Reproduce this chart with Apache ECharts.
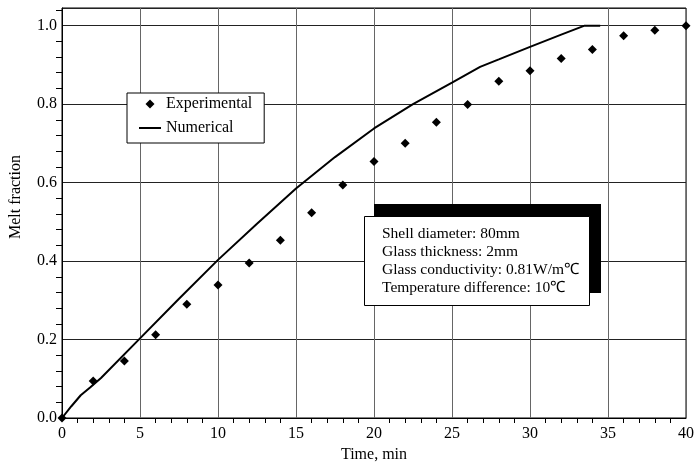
<!DOCTYPE html>
<html>
<head>
<meta charset="utf-8">
<script src="https://cdn.jsdelivr.net/npm/echarts@6/dist/echarts.min.js"></script>
<style>
  html, body { margin: 0; padding: 0; background: #fff; }
  #chart { width: 695px; height: 462px; }
</style>
</head>
<body>
<div id="chart"></div>
<script>
// 實驗數據 (每 2 分鐘一點)
const timeExp = [0, 2, 4, 6, 8, 10, 12, 14, 16, 18, 20, 22, 24, 26, 28, 30, 32, 34, 36, 38, 40];
const meltExp = [0.0, 0.094, 0.145, 0.212, 0.290, 0.339, 0.395, 0.453, 0.523, 0.594, 0.654,
                 0.700, 0.754, 0.799, 0.858, 0.885, 0.916, 0.939, 0.974, 0.988, 1.0];

// 數值模擬曲線
const timeNum = [0, 0.6, 1.2, 1.8, 2.5, 5, 7.5, 10, 12.5, 15, 17.5, 20, 22.5, 25, 26.8, 28, 30, 32, 33.5, 34.5];
const meltNum = [0, 0.03, 0.058, 0.078, 0.102, 0.203, 0.304, 0.403, 0.495, 0.585, 0.665, 0.738,
                 0.80, 0.855, 0.895, 0.914, 0.946, 0.977, 1.0, 1.0];

const seriesNames = ['Experimental', 'Numerical'];
const noteLines = [
    'Shell diameter: 80mm',
    'Glass thickness: 2mm',
    'Glass conductivity: 0.81W/m\u2103',
    'Temperature difference: 10\u2103'
];

const font = "'Liberation Serif', 'Times New Roman', serif";

const chart = echarts.init(document.getElementById('chart'));

const option = {
    animation: false,
    backgroundColor: '#fff',
    textStyle: { fontFamily: font, color: '#000' },
    grid: {
        left: 62, right: 9, top: 8, bottom: 44,
        outerBoundsMode: 'none',
        containLabel: false,
        show: true,
        borderColor: '#000',
        borderWidth: 1
    },
    legend: {
        orient: 'vertical',
        left: 127,
        top: 93,
        data: [
            { name: seriesNames[0], icon: 'path://M5,0L10,5L5,10L0,5Z' },
            { name: seriesNames[1], icon: 'path://M0,0L22,0L22,2L0,2Z' }
        ],
        symbolKeepAspect: true,
        itemWidth: 22,
        itemHeight: 9,
        itemGap: 8,
        padding: [3, 12, 7, 12],
        backgroundColor: '#fff',
        borderColor: '#000',
        borderWidth: 1,
        textStyle: { fontFamily: font, fontSize: 16, color: '#000' }
    },
    xAxis: {
        type: 'value',
        min: 0,
        max: 40,
        interval: 5,
        name: 'Time, min',
        nameLocation: 'middle',
        nameGap: 28,
        nameTextStyle: { fontFamily: font, fontSize: 16, color: '#000' },
        axisLine: { show: true, lineStyle: { color: '#000', width: 1 } },
        axisTick: { show: false },
        minorTick: { show: true, splitNumber: 5, length: 5, lineStyle: { color: '#000' } },
        axisLabel: { fontFamily: font, fontSize: 16, color: '#000', margin: 8 },
        splitLine: { show: true, lineStyle: { color: '#666', width: 1 } }
    },
    yAxis: {
        type: 'value',
        min: 0,
        max: 1.045,
        interval: 0.2,
        name: 'Melt fraction',
        nameLocation: 'middle',
        nameGap: 38,
        nameTextStyle: { fontFamily: font, fontSize: 16, color: '#000', padding: [0, 0, 0, 32] },
        axisLine: { show: true, lineStyle: { color: '#000', width: 1 } },
        axisTick: { show: false },
        minorTick: { show: true, splitNumber: 5, length: 6, lineStyle: { color: '#000' } },
        axisLabel: {
            fontFamily: font, fontSize: 16, color: '#000', margin: 5,
            showMaxLabel: false,
            formatter: v => v.toFixed(1)
        },
        splitLine: { show: true, lineStyle: { color: '#222', width: 1 } }
    },
    graphic: [
        // 參數說明框 (黑色陰影 + 白色框)
        {
            type: 'rect',
            shape: { x: 374, y: 204, width: 227, height: 89 },
            style: { fill: '#000' },
            z: 100
        },
        {
            type: 'rect',
            shape: { x: 364.5, y: 216.5, width: 225, height: 89 },
            style: { fill: '#fff', stroke: '#000', lineWidth: 1 },
            z: 101
        },
        {
            type: 'text',
            x: 382,
            y: 225,
            z: 102,
            style: {
                text: noteLines.join('\n'),
                font: '15.5px ' + font,
                lineHeight: 18,
                fill: '#000'
            }
        }
    ],
    series: [
        {
            name: seriesNames[0],
            type: 'scatter',
            symbol: 'diamond',
            symbolSize: 9,
            itemStyle: { color: '#000', opacity: 1 },
            data: timeExp.map((t, i) => [t, meltExp[i]]),
            z: 5
        },
        {
            name: seriesNames[1],
            type: 'line',
            symbol: 'none',
            lineStyle: { color: '#000', width: 2 },
            itemStyle: { color: '#000' },
            data: timeNum.map((t, i) => [t, meltNum[i]]),
            z: 4
        }
    ]
};

chart.setOption(option);
</script>
</body>
</html>
